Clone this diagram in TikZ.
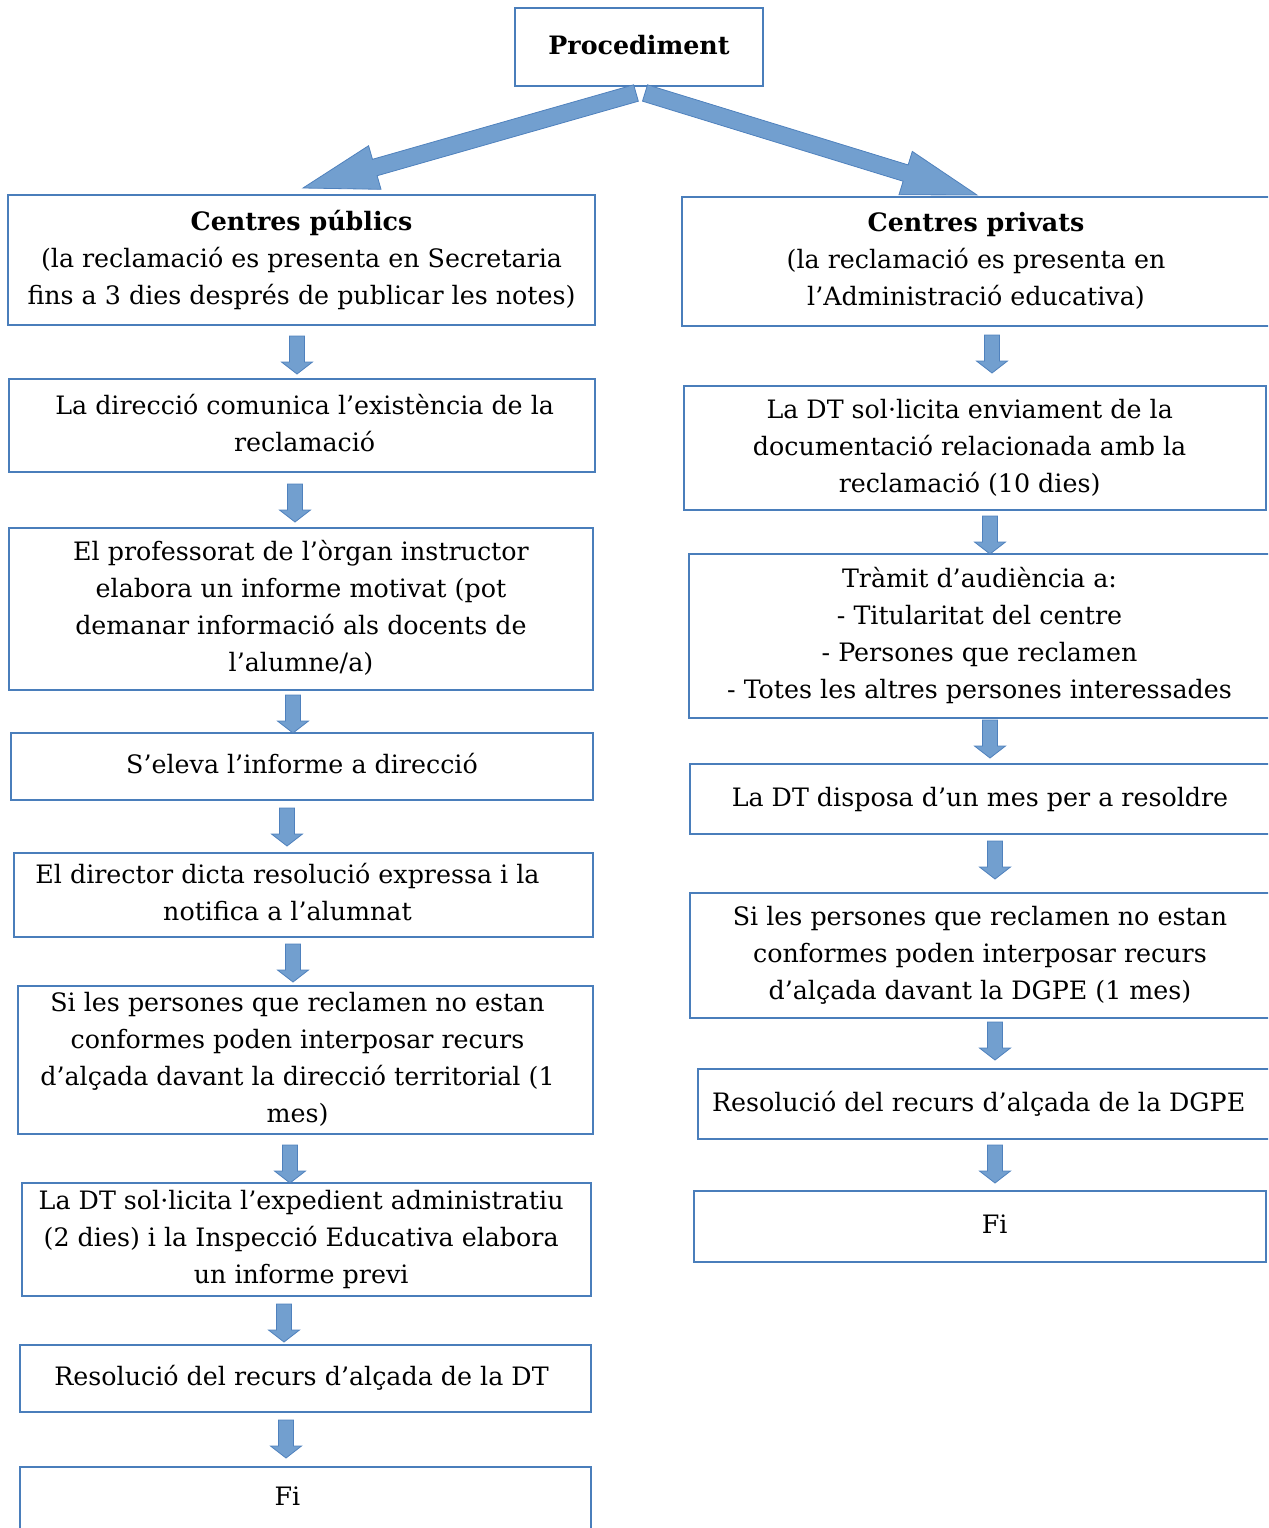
\documentclass[tikz,border=0pt]{standalone}
\usepackage{fontspec}
\setmainfont{DejaVu Serif}
\usetikzlibrary{calc}
\definecolor{boxline}{RGB}{74,126,187}
\definecolor{arrfill}{RGB}{114,159,207}
\definecolor{arrline}{RGB}{79,129,189}
\newcommand{\fs}{\fontsize{19pt}{27.75pt}\selectfont}
\newcommand{\bx}[7][0]{\node[box, minimum width={(#5-#3)*0.75pt}, minimum height={(#6-#4)*0.75pt}] (#2) at ({(#3+#5)/2},{(#4+#6)/2}) {\hspace*{#1pt}\begin{tabular}{@{}c@{}}#7\end{tabular}};}
\newcommand{\darr}[2]{\filldraw[blockarr] (#1-7.5,#2) -- (#1+7.5,#2) -- (#1+7.5,#2+26) -- (#1+15.5,#2+26) -- (#1,#2+38) -- (#1-15.5,#2+26) -- (#1-7.5,#2+26) -- cycle;}
\newcommand{\bigarr}[2]{\filldraw[blockarr]
 ($(#1)!6.4pt!90:(#2)$) -- ($($(#2)!56pt!(#1)$)!6.4pt!-90:(#1)$) -- ($($(#2)!56pt!(#1)$)!17pt!-90:(#1)$) -- (#2) --
 ($($(#2)!56pt!(#1)$)!17pt!90:(#1)$) -- ($($(#2)!56pt!(#1)$)!6.4pt!90:(#1)$) -- ($(#1)!6.4pt!-90:(#2)$) -- cycle;}
\begin{document}
\begin{tikzpicture}[x=0.75pt,y=-0.75pt,
  box/.style={draw=boxline, line width=1pt, inner sep=0pt, align=center, font=\fs},
  blockarr/.style={fill=arrfill, draw=arrline, line width=0.6pt, line join=miter}]
\useasboundingbox (0,0) rectangle (1268,1528);
\clip (0,0) rectangle (1268,1528);

\bx{proc}{515}{8}{763}{86}{\textbf{Procediment}}

% left column
\bx{pub}{8}{195}{595}{325}{\textbf{Centres públics}\\(la reclamació es presenta en Secretaria\\fins a 3 dies després de publicar les notes)}
\bx[4]{l2}{9}{379}{595}{472}{La direcció comunica l’existència de la\\reclamació}
\bx{l3}{9}{528}{593}{690}{El professorat de l’òrgan instructor\\elabora un informe motivat (pot\\demanar informació als docents de\\l’alumne/a)}
\bx{l4}{11}{733}{593}{800}{S’eleva l’informe a direcció}
\bx[-24]{l5}{14}{853}{593}{937}{El director dicta resolució expressa i la\\notifica a l’alumnat}
\bx[-12]{l6}{18}{986}{593}{1134}{Si les persones que reclamen no estan\\conformes poden interposar recurs\\d’alçada davant la direcció territorial (1\\mes)}
\bx[-8]{l7}{22}{1183}{591}{1296}{La DT sol·licita l’expedient administratiu\\(2 dies) i la Inspecció Educativa elabora\\un informe previ}
\bx[-6]{l8}{20}{1345}{591}{1412}{Resolució del recurs d’alçada de la DT}
\bx[-27]{l9}{20}{1467}{591}{1530}{Fi}

% right column
\bx{priv}{682}{197}{1270}{326}{\textbf{Centres privats}\\(la reclamació es presenta en\\l’Administració educativa)}
\bx[-8]{r2}{684}{386}{1266}{510}{La DT sol·licita enviament de la\\documentació relacionada amb la\\reclamació (10 dies)}
\bx{r3}{689}{554}{1270}{718}{Tràmit d’audiència a:\\- Titularitat del centre\\- Persones que reclamen\\- Totes les altres persones interessades}
\bx{r4}{690}{764}{1270}{834}{La DT disposa d’un mes per a resoldre}
\bx{r5}{690}{893}{1270}{1018}{Si les persones que reclamen no estan\\conformes poden interposar recurs\\d’alçada davant la DGPE (1 mes)}
\bx[-8]{r6}{698}{1069}{1270}{1139}{Resolució del recurs d’alçada de la DGPE}
\bx[22]{r7}{694}{1191}{1266}{1262}{Fi}

% big arrows
\coordinate (sl) at (636,93);
\coordinate (tl) at (303,188);
\coordinate (sr) at (645,93);
\coordinate (tr) at (977,195);
\bigarr{sl}{tl}
\bigarr{sr}{tr}

% small block arrows
\darr{297}{336}
\darr{295}{484}
\darr{293}{695}
\darr{287}{808}
\darr{293}{944}
\darr{290}{1145}
\darr{284}{1304}
\darr{286}{1420}

\darr{992}{335}
\darr{990}{516}
\darr{990}{720}
\darr{995}{841}
\darr{995}{1022}
\darr{995}{1145}
\end{tikzpicture}
\end{document}
